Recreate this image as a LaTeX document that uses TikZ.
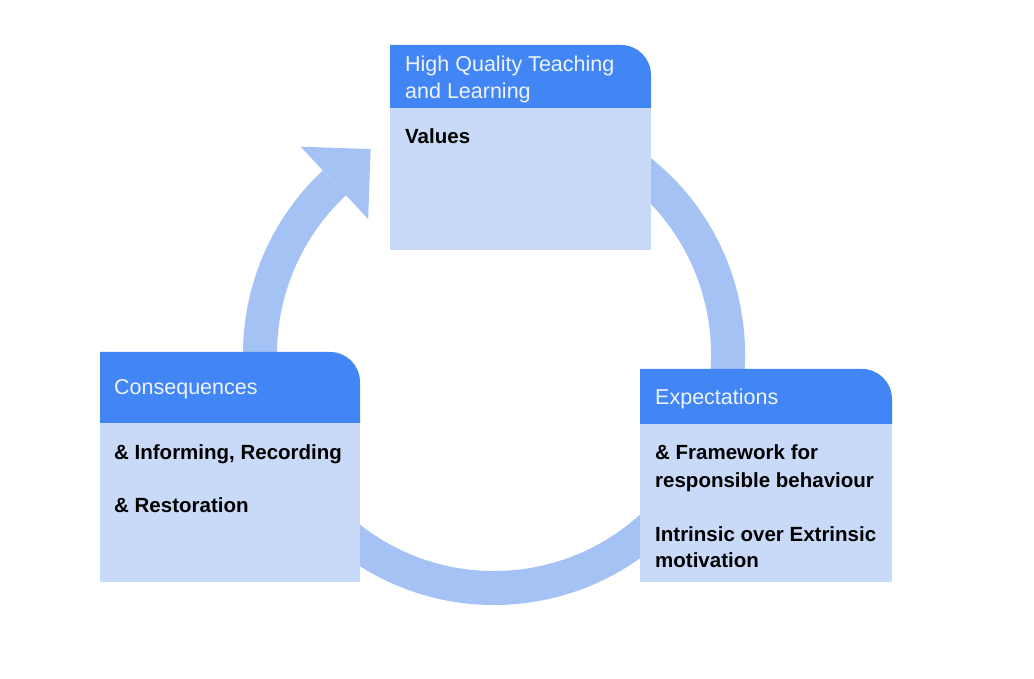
\documentclass[tikz,border=0pt]{standalone}
\usepackage{fontspec}
\setmainfont{Liberation Sans}
\usetikzlibrary{calc}
\definecolor{headblue}{HTML}{4285F4}
\definecolor{bodyblue}{HTML}{C9DAF8}
\definecolor{ringblue}{HTML}{A4C2F4}
\definecolor{headfont}{HTML}{EEF3FD}
\begin{document}
\begin{tikzpicture}[x=1pt,y=1pt,
  headtext/.style={anchor=base west,inner sep=0pt,text=headfont,font=\fontsize{21.5}{25}\selectfont},
  bodytext/.style={anchor=base west,inner sep=0pt,text=black,font=\fontsize{20.5}{24}\selectfont\bfseries},
  ring/.style={draw=ringblue,line width=34pt,line cap=butt}]
\useasboundingbox (0,0) rectangle (1034,679);
\fill[white] (0,0) rectangle (1034,679);

% cycle ring with its arrowhead
\coordinate (c) at (494,325);
\draw[ring] ($(c)+(100:234)$) arc[start angle=100,end angle=-227,radius=234];
\coordinate (bm) at ($(c)+(133:234)$);
\coordinate (tip) at ($(bm)+(43:49.5)$);
\coordinate (b1) at ($(bm)+(133:49.5)$);
\coordinate (b2) at ($(bm)+(-47:49.5)$);
\fill[ringblue] (b1) -- (tip) -- (b2) -- cycle;

% top box
\fill[bodyblue] (390,429) rectangle (651,571);
\fill[headblue] (390,571) -- (390,634) -- (621,634) arc[start angle=90,end angle=0,radius=30] -- (651,571) -- cycle;
\node[headtext] (hq1) at (405,607) {High Quality Teaching};
\node[headtext] (hq2) at (405,580) {and Learning};
\node[bodytext] (val) at (405,535) {Values};

% left box
\fill[bodyblue] (100,97) rectangle (360,256);
\fill[headblue] (100,256) -- (100,327) -- (330,327) arc[start angle=90,end angle=0,radius=30] -- (360,256) -- cycle;
\node[headtext] (con) at (114,284) {Consequences};
\node[bodytext] (inf) at (114,219) {\& Informing, Recording};
\node[bodytext] (res) at (114,166) {\& Restoration};

% right box
\fill[bodyblue] (640,97) rectangle (892,255);
\fill[headblue] (640,255) -- (640,310) -- (862,310) arc[start angle=90,end angle=0,radius=30] -- (892,255) -- cycle;
\node[headtext] (exp) at (655,274) {Expectations};
\node[bodytext] (fw1) at (655,219) {\& Framework for};
\node[bodytext] (fw2) at (655,191) {responsible behaviour};
\node[bodytext] (in1) at (655,137) {Intrinsic over Extrinsic};
\node[bodytext] (in2) at (655,111) {motivation};
\end{tikzpicture}
\end{document}
